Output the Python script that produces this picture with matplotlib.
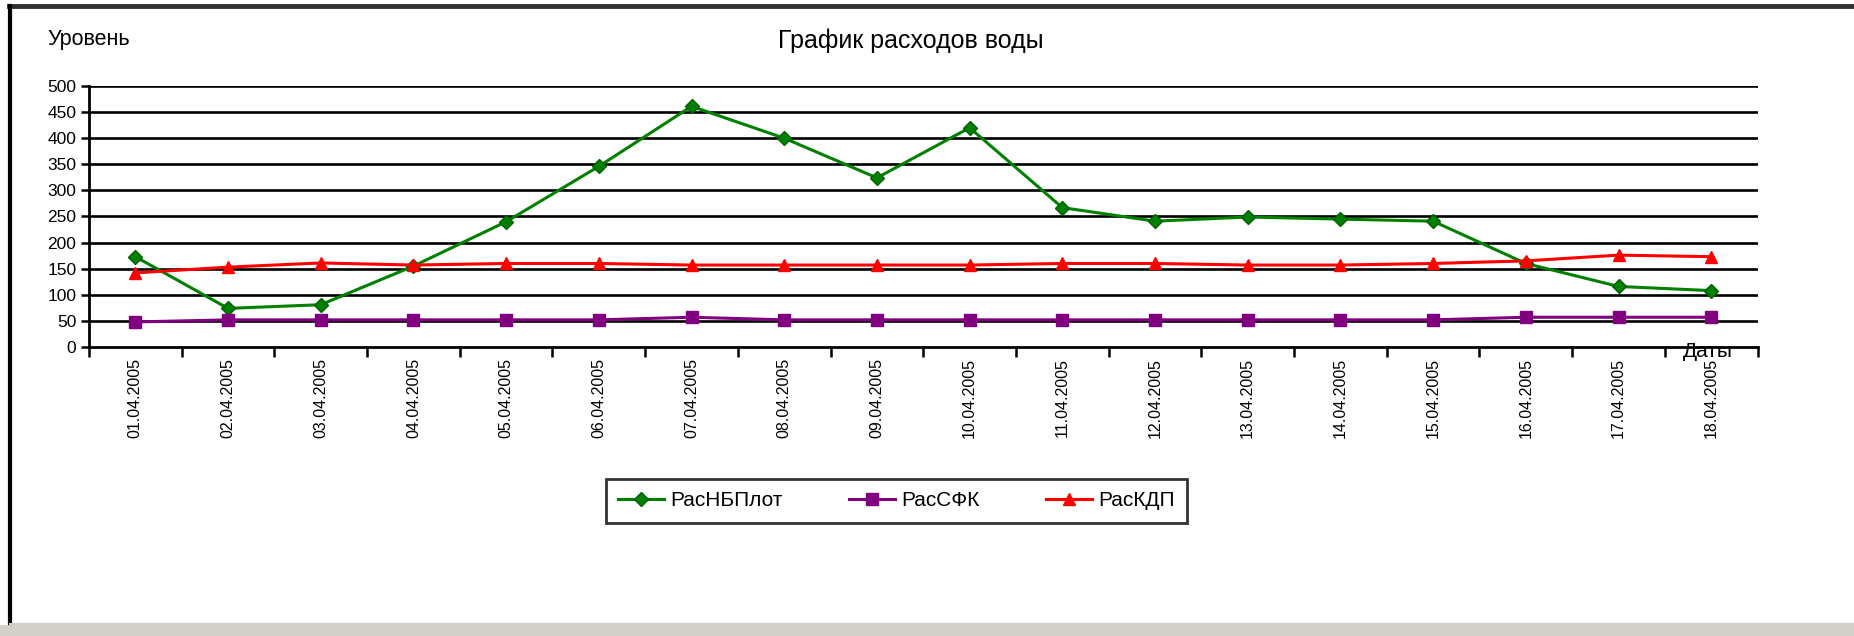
import numpy as np
import matplotlib.pyplot as plt
from matplotlib.lines import Line2D
from matplotlib.patches import Rectangle

plt.rcParams['font.family'] = ['Liberation Sans', 'DejaVu Sans']

# daty i raskhody
dates = ['01.04.2005', '02.04.2005', '03.04.2005', '04.04.2005', '05.04.2005',
         '06.04.2005', '07.04.2005', '08.04.2005', '09.04.2005', '10.04.2005',
         '11.04.2005', '12.04.2005', '13.04.2005', '14.04.2005', '15.04.2005',
         '16.04.2005', '17.04.2005', '18.04.2005']
ras_nbplot = [173, 74, 81, 155, 240, 346, 461, 400, 324, 420,
              267, 241, 249, 245, 241, 160, 116, 108]
ras_sfk = [48, 52, 52, 52, 52, 52, 57, 52, 52, 52,
           52, 52, 52, 52, 52, 57, 57, 57]
ras_kdp = [142, 153, 161, 157, 160, 160, 157, 157, 157, 157,
           160, 160, 157, 157, 160, 165, 176, 173]
yticks = np.arange(0, 501, 50)

x = np.arange(len(dates))

fig = plt.figure(figsize=(18.54, 6.36), dpi=100)
fig.patch.set_facecolor('white')

# ramka okna
fig.add_artist(Line2D([0.005, 1.0], [0.9905, 0.9905], color='#303030', lw=3.5))
fig.add_artist(Line2D([0.0054, 0.0054], [0.99, 0.02], color='black', lw=3))
fig.add_artist(Rectangle((0, 0), 1, 0.017, color='#d4d0c8', lw=0))
fig.add_artist(Line2D([0.0054, 1.0], [0.019, 0.019], color='#d4d0c8', lw=1.5))

ax = fig.add_axes([0.048, 0.4544, 0.9, 0.4104])

for yv in yticks[1:]:
    ax.axhline(yv, color='black', lw=1.9, zorder=1)

ax.plot(x, ras_nbplot, color='#008000', lw=2.2, marker='D', ms=7,
        markeredgecolor='#006000', label='РасНБПлот', zorder=3)
ax.plot(x, ras_sfk, color='#800080', lw=2.2, marker='s', ms=8,
        label='РасСФК', zorder=3)
ax.plot(x, ras_kdp, color='#ff0000', lw=2.2, marker='^', ms=9,
        label='РасКДП', zorder=3)

ax.set_xlim(-0.5, len(dates) - 0.5)
ax.set_ylim(0, 500)
ax.set_yticks(yticks)
ax.tick_params(axis='y', direction='out', length=6, width=1.8, labelsize=12.5, pad=3)

ax.set_xticks(np.arange(-0.5, len(dates), 1.0))
ax.set_xticklabels([])
ax.tick_params(axis='x', which='major', direction='out', length=7, width=1.8)
ax.set_xticks(x, minor=True)
ax.set_xticklabels(dates, minor=True, rotation=90, fontsize=11.5)
ax.tick_params(axis='x', which='minor', length=0, pad=8)

for s in ['top', 'right']:
    ax.spines[s].set_visible(False)
ax.spines['left'].set_linewidth(2)
ax.spines['bottom'].set_linewidth(2)
ax.spines['bottom'].set_bounds(-0.5, len(dates) - 0.5)

fig.text(0.491, 0.936, 'График расходов воды', fontsize=18, ha='center', va='center')
fig.text(0.0255, 0.938, 'Уровень', fontsize=15.5, ha='left', va='center')
fig.text(0.921, 0.447, 'Даты', fontsize=15, ha='center', va='center')

leg = fig.legend(loc='center', bbox_to_anchor=(0.4835, 0.213), ncol=3, fontsize=15,
                 frameon=True, fancybox=False, edgecolor='black', handlelength=2.2,
                 handletextpad=0.3, columnspacing=3.2, borderpad=0.6)
leg.get_frame().set_linewidth(2)

plt.savefig('out.png', dpi=100)
